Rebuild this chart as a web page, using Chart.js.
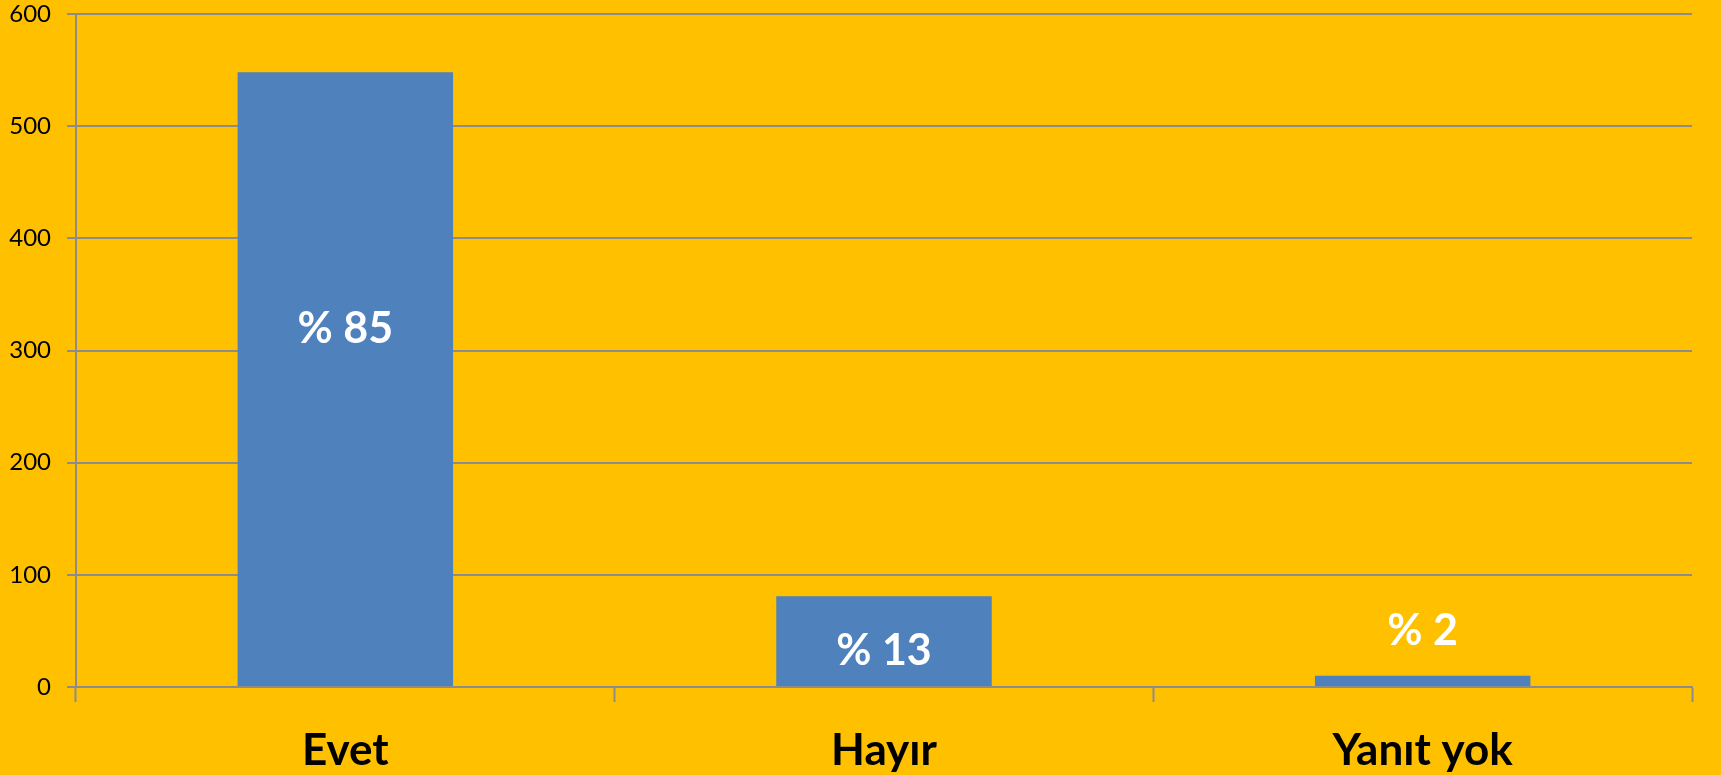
<!DOCTYPE html>
<html>
<head>
<meta charset="utf-8">
<title>Evet / Hayır / Yanıt yok</title>
<script src="https://cdn.jsdelivr.net/npm/chart.js@4/dist/chart.umd.min.js"></script>
<style>
    html, body { margin: 0; padding: 0; background: #FFC000; }
    canvas { display: block; }
</style>
</head>
<body>
<canvas id="chart" width="1721" height="775"></canvas>
<script>
// answers and counts
const categories = ["Evet", "Hayır", "Yanıt yok"]
const counts = [548, 81, 10]
const percentLabels = ["% 85", "% 13", "% 2"]
// where each percent label sits, in axis units
const labelAt = [319, 32, 50]
const yTicks = [0, 100, 200, 300, 400, 500, 600]

const gridColor = "#8C8C8C"
const fontFamily = "Lato, 'Open Sans', sans-serif"

const percentLabelPlugin = {
    id: "percentLabels",
    afterDatasetsDraw(chart) {
        const ctx = chart.ctx
        const meta = chart.getDatasetMeta(0)
        const yScale = chart.scales.y
        ctx.save()
        ctx.fillStyle = "#FFFFFF"
        ctx.font = "bold 43px " + fontFamily
        ctx.textAlign = "center"
        ctx.textBaseline = "middle"
        meta.data.forEach((bar, i) => {
            ctx.fillText(percentLabels[i], bar.x, yScale.getPixelForValue(labelAt[i]))
        })
        ctx.restore()
    }
}

const bgPlugin = {
    id: "bg",
    beforeDraw(chart) {
        const ctx = chart.ctx
        ctx.save()
        ctx.fillStyle = "#FFC000"
        ctx.fillRect(0, 0, chart.width, chart.height)
        ctx.restore()
    }
}

new Chart(document.getElementById("chart"), {
    type: "bar",
    data: {
        labels: categories,
        datasets: [{
            data: counts,
            backgroundColor: "#4F81BD",
            borderWidth: 0,
            barPercentage: 0.4,
            categoryPercentage: 1.0
        }]
    },
    options: {
        responsive: false,
        animation: false,
        layout: { padding: { top: 14, right: 29, left: 0, bottom: 0 } },
        plugins: {
            legend: { display: false },
            tooltip: { enabled: false }
        },
        scales: {
            x: {
                grid: {
                    offset: true,
                    drawOnChartArea: false,
                    drawTicks: true,
                    tickLength: 15,
                    tickWidth: 2,
                    tickColor: gridColor
                },
                border: { color: gridColor, width: 2 },
                ticks: {
                    color: "#000000",
                    padding: 22,
                    font: { family: fontFamily, size: 44, weight: "bold" }
                },
                afterFit(scale) {
                    scale.height = 88
                    scale.paddingLeft = 0
                    scale.paddingRight = 0
                }
            },
            y: {
                min: 0,
                max: 600,
                afterBuildTicks(scale) {
                    scale.ticks = yTicks.map(v => ({ value: v }))
                },
                grid: {
                    color: gridColor,
                    lineWidth: 2,
                    tickLength: 9
                },
                border: { color: gridColor, width: 2 },
                ticks: {
                    color: "#000000",
                    padding: 16,
                    font: { family: fontFamily, size: 24 }
                },
                afterFit(scale) {
                    scale.width = 76
                    scale.paddingTop = 0
                    scale.paddingBottom = 0
                }
            }
        }
    },
    plugins: [bgPlugin, percentLabelPlugin]
})
</script>
</body>
</html>
